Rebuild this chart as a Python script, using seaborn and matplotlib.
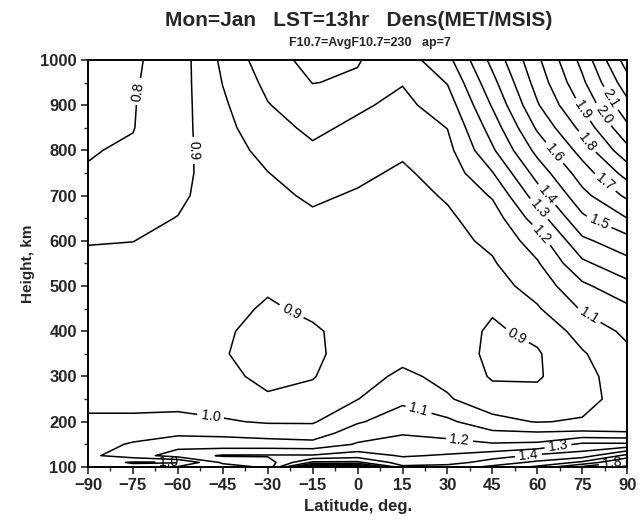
import numpy as np
import pandas as pd
import matplotlib
matplotlib.use("Agg")
import matplotlib.pyplot as plt
import seaborn as sns
from matplotlib.ticker import MultipleLocator

# ---- data (density ratio MET/MSIS) ----
heights = [100, 110, 125, 150, 175, 200, 250, 300, 350, 400, 450, 500,
           550, 600, 650, 700, 750, 800, 850, 900, 950, 1000]
latitudes = [-90, -75, -60, -45, -30, -15, 0, 15, 30, 45, 60, 75, 90]

dens_m90 = [1.03, 1.05, 1.08, 1.06, 1.04, 1.015, 0.975, 0.96, 0.955, 0.95, 0.945, 0.935,
            0.92, 0.895, 0.86, 0.83, 0.805, 0.795, 0.785, 0.775, 0.77, 0.76]
dens_m75 = [1.03, 0.99, 1.15, 1.11, 1.06, 1.015, 0.975, 0.96, 0.955, 0.95, 0.945, 0.935,
            0.92, 0.899, 0.88, 0.855, 0.83, 0.81, 0.797, 0.795, 0.79, 0.785]
dens_m60 = [1.11, 0.99, 1.25, 1.16, 1.08, 1.02, 0.975, 0.96, 0.955, 0.955, 0.95, 0.945,
            0.935, 0.92, 0.902, 0.885, 0.875, 0.87, 0.865, 0.86, 0.855, 0.85]
dens_m45 = [1.15, 1.22, 1.31, 1.14, 1.08, 1.01, 0.95, 0.92, 0.905, 0.91, 0.925, 0.93,
            0.935, 0.935, 0.935, 0.94, 0.945, 0.955, 0.97, 0.985, 1.003, 1.02]
dens_m30 = [1.22, 1.25, 1.31, 1.14, 1.06, 0.99, 0.91, 0.88, 0.87, 0.875, 0.89, 0.91,
            0.925, 0.94, 0.955, 0.975, 0.998, 1.03, 1.065, 1.095, 1.125, 1.16]
dens_m15 = [1.92, 1.52, 1.31, 1.13, 1.05, 0.99, 0.93, 0.895, 0.885, 0.89, 0.915, 0.93,
            0.945, 0.96, 0.985, 1.015, 1.05, 1.085, 1.12, 1.16, 1.202, 1.23]
dens_0 = [1.92, 1.52, 1.35, 1.21, 1.15, 1.09, 0.998, 0.96, 0.935, 0.93, 0.935, 0.94,
          0.945, 0.955, 0.97, 0.99, 1.02, 1.05, 1.08, 1.115, 1.19, 1.205]
dens_15 = [1.42, 1.35, 1.29, 1.25, 1.19, 1.15, 1.08, 1.02, 0.97, 0.94, 0.93, 0.93,
           0.935, 0.94, 0.95, 0.965, 0.985, 1.015, 1.045, 1.075, 1.105, 1.15]
dens_30 = [1.45, 1.35, 1.31, 1.23, 1.17, 1.12, 1.01, 0.975, 0.96, 0.95, 0.95, 0.955,
           0.96, 0.97, 0.985, 1.01, 1.04, 1.07, 1.102, 1.15, 1.205, 1.27]
dens_45 = [1.52, 1.45, 1.35, 1.21, 1.12, 1.03, 0.94, 0.89, 0.875, 0.885, 0.91, 0.96,
           0.99, 1.02, 1.05, 1.11, 1.195, 1.285, 1.345, 1.41, 1.47, 1.53]
dens_60 = [1.62, 1.52, 1.42, 1.22, 1.11, 0.995, 0.93, 0.89, 0.89, 0.925, 0.99, 1.04,
           1.09, 1.15, 1.25, 1.35, 1.44, 1.53, 1.615, 1.69, 1.74, 1.78]
dens_75 = [1.82, 1.62, 1.45, 1.32, 1.12, 1.01, 0.96, 0.965, 0.99, 1.04, 1.11, 1.18,
           1.28, 1.38, 1.48, 1.57, 1.65, 1.74, 1.83, 1.915, 1.98, 2.03]
dens_90 = [1.92, 1.83, 1.63, 1.32, 1.105, 1.06, 1.05, 1.06, 1.08, 1.12, 1.18, 1.27,
           1.37, 1.46, 1.6, 1.72, 1.84, 1.97, 2.08, 2.17, 2.26, 2.35]

levels = [0.8, 0.9, 1.0, 1.1, 1.2, 1.3, 1.4, 1.5, 1.6, 1.7, 1.8, 1.9, 2.0, 2.1, 2.2, 2.3]

title = "Mon=Jan   LST=13hr   Dens(MET/MSIS)"
subtitle = "F10.7=AvgF10.7=230   ap=7"
xlabel = "Latitude, deg."
ylabel = "Height, km"

# ---- build table ----
columns = [dens_m90, dens_m75, dens_m60, dens_m45, dens_m30, dens_m15, dens_0,
           dens_15, dens_30, dens_45, dens_60, dens_75, dens_90]
df = pd.DataFrame(np.array(columns).T, index=heights, columns=latitudes)

sns.set_theme(style="ticks")
plt.rcParams['font.family'] = ['Liberation Sans', 'DejaVu Sans']

fig, ax = plt.subplots(figsize=(6.4, 5.3), dpi=100)
fig.subplots_adjust(left=0.1375, right=0.98, bottom=0.119, top=0.887)

label_spots = {
    0.8: [(-73, 930)],
    0.9: [(-54, 800), (-22, 445), (52, 375)],
    1.0: [(-49, 215), (-63, 111)],
    1.1: [(20, 218), (77, 432)],
    1.2: [(34, 160), (59, 600)],
    1.3: [(57, 650), (67, 140)],
    1.4: [(61, 690), (57, 128)],
    1.5: [(79, 617)],
    1.6: [(63, 779)],
    1.7: [(79, 700)],
    1.8: [(71, 790), (85, 110)],
    1.9: [(70, 867)],
    2.0: [(80, 870)],
    2.1: [(82, 905)],
}

X = df.columns.values
Y = df.index.values
Z = df.values
for lev in levels:
    cs = ax.contour(X, Y, Z, levels=[lev], colors='black', linewidths=1.1)
    if lev in label_spots:
        try:
            ax.clabel(cs, manual=label_spots[lev], fmt='%.1f', fontsize=10,
                      inline=True, inline_spacing=4)
        except Exception:
            pass

ax.set_xlim(-90, 90)
ax.set_ylim(100, 1000)
ax.xaxis.set_major_locator(MultipleLocator(15))
ax.xaxis.set_minor_locator(MultipleLocator(7.5))
ax.yaxis.set_major_locator(MultipleLocator(100))
ax.yaxis.set_minor_locator(MultipleLocator(50))
ax.tick_params(axis='both', which='major', direction='out', length=5, width=1.2,
               labelsize=12, pad=3)
ax.tick_params(axis='both', which='minor', direction='out', length=3, width=1.0)
for lab in ax.get_xticklabels() + ax.get_yticklabels():
    lab.set_fontweight('bold')
for sp in ax.spines.values():
    sp.set_visible(True)
    sp.set_linewidth(1.4)
    sp.set_color('black')

ax.set_xlabel(xlabel, fontsize=12, fontweight='bold', labelpad=4)
ax.set_ylabel(ylabel, fontsize=11, fontweight='bold', labelpad=4)

fig.text(0.56, 0.962, title, ha='center', va='center', fontsize=15, fontweight='bold')
fig.text(0.578, 0.918, subtitle, ha='center', va='center', fontsize=9, fontweight='bold')

fig.savefig("out.png", dpi=100, facecolor='white')
